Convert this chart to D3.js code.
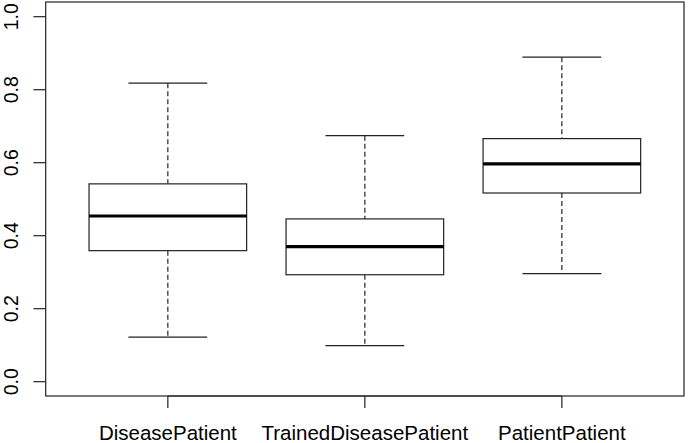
<!DOCTYPE html>
<html>
<head>
<meta charset="utf-8">
<script src="https://cdn.jsdelivr.net/npm/d3@7"></script>
<style>
  html, body { margin: 0; padding: 0; background: #fff; }
  svg { display: block; }
  text { font-family: "Liberation Sans", Arial, sans-serif; fill: #000; }
</style>
</head>
<body>
<svg id="chart" width="688" height="443"></svg>
<script>
const categories = ["DiseasePatient", "TrainedDiseasePatient", "PatientPatient"];
const whiskerLow  = [0.122, 0.099, 0.296];
const q1          = [0.359, 0.293, 0.517];
const medians     = [0.454, 0.370, 0.597];
const q3          = [0.542, 0.446, 0.666];
const whiskerHigh = [0.818, 0.674, 0.889];
const yTicks = [0, 0.2, 0.4, 0.6, 0.8, 1.0];
const yTickLabels = ["0.0", "0.2", "0.4", "0.6", "0.8", "1.0"];

const svg = d3.select("#chart");
const plotLeft = 45.7, plotRight = 684, plotTop = 2, plotBottom = 396;

const x = d3.scaleLinear().domain([0.38, 3.62]).range([plotLeft, plotRight]);
const y = d3.scaleLinear().domain([0, 1]).range([381.7, 16.7]);
const unit = x(2) - x(1);
const boxW = 0.8 * unit, capW = 0.4 * unit;
const stroke = "#222", sw = 1.2;

const data = categories.map((c, i) => ({
  c, i: i + 1, lo: whiskerLow[i], q1: q1[i], med: medians[i], q3: q3[i], hi: whiskerHigh[i]
}));

const g = svg.append("g");
data.forEach(d => {
  const cx = x(d.i);
  g.append("line").attr("x1", cx).attr("x2", cx).attr("y1", y(d.hi)).attr("y2", y(d.q3))
    .attr("stroke", stroke).attr("stroke-width", sw).attr("stroke-dasharray", "5,3");
  g.append("line").attr("x1", cx).attr("x2", cx).attr("y1", y(d.q1)).attr("y2", y(d.lo))
    .attr("stroke", stroke).attr("stroke-width", sw).attr("stroke-dasharray", "5,3");
  [d.hi, d.lo].forEach(v => {
    g.append("line").attr("x1", cx - capW / 2).attr("x2", cx + capW / 2)
      .attr("y1", y(v)).attr("y2", y(v)).attr("stroke", stroke).attr("stroke-width", sw);
  });
  g.append("rect").attr("x", cx - boxW / 2).attr("y", y(d.q3))
    .attr("width", boxW).attr("height", y(d.q1) - y(d.q3))
    .attr("fill", "#fff").attr("stroke", stroke).attr("stroke-width", sw);
  g.append("line").attr("x1", cx - boxW / 2).attr("x2", cx + boxW / 2)
    .attr("y1", y(d.med)).attr("y2", y(d.med)).attr("stroke", "#000").attr("stroke-width", 3.2);
});

svg.append("rect").attr("x", plotLeft).attr("y", plotTop)
  .attr("width", plotRight - plotLeft).attr("height", plotBottom - plotTop)
  .attr("fill", "none").attr("stroke", stroke).attr("stroke-width", sw);

const yAxis = svg.append("g");
yTicks.forEach((t, i) => {
  yAxis.append("line").attr("x1", plotLeft - 12.3).attr("x2", plotLeft).attr("y1", y(t)).attr("y2", y(t))
    .attr("stroke", stroke).attr("stroke-width", sw);
  yAxis.append("text").attr("transform", `translate(17.5,${y(t)}) rotate(-90)`)
    .attr("text-anchor", "middle").attr("font-size", 19.5).text(yTickLabels[i]);
});

const xAxis = svg.append("g");
xAxis.append("line").attr("x1", x(1)).attr("x2", x(3)).attr("y1", plotBottom).attr("y2", plotBottom)
  .attr("stroke", stroke).attr("stroke-width", sw);
data.forEach(d => {
  xAxis.append("line").attr("x1", x(d.i)).attr("x2", x(d.i)).attr("y1", plotBottom).attr("y2", plotBottom + 12)
    .attr("stroke", stroke).attr("stroke-width", sw);
  xAxis.append("text").attr("x", x(d.i)).attr("y", 440).attr("text-anchor", "middle")
    .attr("font-size", 20.5).text(d.c);
});
</script>
</body>
</html>
